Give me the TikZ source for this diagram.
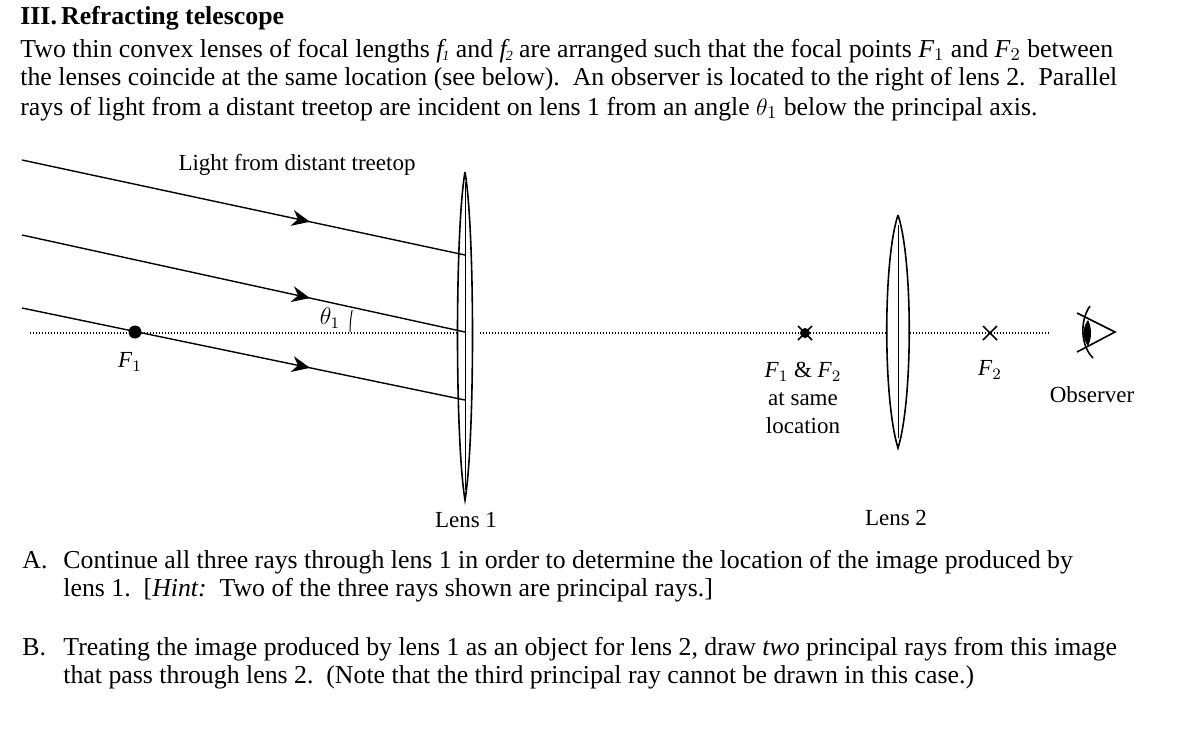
\documentclass[tikz,border=0pt]{standalone}
\usepackage{fontspec}
\setmainfont{Liberation Serif}
\usetikzlibrary{decorations.markings,arrows.meta}
\begin{document}
\begin{tikzpicture}[x=0.5pt,y=-0.5pt,
  txt/.style={anchor=base west,inner sep=0pt,font=\fontsize{12.9}{15}\selectfont},
  lbl/.style={inner sep=0pt,font=\fontsize{11.5}{13}\selectfont},
  ray/.style={line width=0.7pt,postaction=decorate,decoration={markings,mark=at position #1 with {\arrow{Stealth[length=9pt,width=8pt]}}}},
  axis/.style={line width=1pt,dash pattern=on 0.5pt off 1pt},
  lens/.style={line width=0.8pt}]
\useasboundingbox (0,0) rectangle (1178,752);
% texts
\node[txt,font=\fontsize{12.9}{15}\selectfont\bfseries] (title) at (20,24) {III.\,Refracting telescope};
\node[txt] (p1) at (20,57) {Two thin convex lenses of focal lengths \textit{f\kern-0.5pt\raisebox{-0.3ex}{\scriptsize1}} and \textit{f\kern-0.5pt\raisebox{-0.3ex}{\scriptsize2}} are arranged such that the focal points \textit{F}$_1$ and \textit{F}$_2$ between};
\node[txt] (p2) at (20,85) {the lenses coincide at the same location (see below).\ \ An observer is located to the right of lens 2.\ \ Parallel};
\node[txt] (p3) at (20,115) {rays of light from a distant treetop are incident on lens 1 from an angle $\theta_1$ below the principal axis.};
\node[txt] (a1) at (22,568) {A.};
\node[txt] (a2) at (63,568) {Continue all three rays through lens 1 in order to determine the location of the image produced by};
\node[txt] (a3) at (63,596) {lens 1.\ \ [\textit{Hint:}\ \ Two of the three rays shown are principal rays.]};
\node[txt] (b1) at (22,655) {B.};
\node[txt] (b2) at (63,655) {Treating the image produced by lens 1 as an object for lens 2, draw \textit{two} principal rays from this image};
\node[txt] (b3) at (63,683) {that pass through lens 2.\ \ (Note that the third principal ray cannot be drawn in this case.)};
% axis
\draw[axis] (30,333) -- (458,333);
\draw[axis] (480,333) -- (886,333);
\draw[axis] (910,333) -- (1050,333);
% lens 1
\coordinate (L1t) at (465,172); \coordinate (L1b) at (465,500);
\draw[lens] (L1t) .. controls (455,230) and (455,440) .. (L1b) .. controls (475,440) and (475,230) .. (L1t);
\draw[line width=0.5pt] (465,182) -- (465,490);
% lens 2
\coordinate (L2t) at (898,215); \coordinate (L2b) at (898,448);
\draw[lens] (L2t) .. controls (883,260) and (883,400) .. (L2b) .. controls (913,400) and (913,260) .. (L2t);
\draw[line width=0.5pt] (898,225) -- (898,438);
% rays
\coordinate (r1s) at (22,160); \coordinate (r1e) at (465,255);
\coordinate (r2s) at (22,235); \coordinate (r2e) at (465,332);
\coordinate (r3s) at (22,308); \coordinate (r3e) at (465,400);
\draw[ray=0.65] (r1s) -- (r1e);
\draw[ray=0.65] (r2s) -- (r2e);
\draw[ray=0.65] (r3s) -- (r3e);
% F1
\fill (135,332) circle (6.5);
\node[lbl] (F1) at (130,362) {\textit{F}$_1$};
\node[lbl] (light) at (297,165) {Light from distant treetop};
\draw[line width=0.5pt] (350,332) arc (180:191:115);
\node[lbl] (th) at (330,318) {$\theta_1$};
% F1&F2
\fill (805,333) circle (5);
\draw[line width=0.8pt] (798,326) -- (812,340) (798,340) -- (812,326);
\node[lbl,align=center] (F12) at (803,398) {\textit{F}$_1$ \& \textit{F}$_2$\\[1pt]at same\\[1pt]location};
% F2
\draw[line width=0.8pt] (983,326) -- (997,340) (983,340) -- (997,326);
\node[lbl] (F2) at (990,370) {\textit{F}$_2$};
% eye
\draw[line width=0.8pt] (1077,313) -- (1115,332) -- (1077,352);
\draw[line width=0.8pt] (1090,306) .. controls (1080,320) and (1080,345) .. (1093,358);
\fill (1088,320) .. controls (1082,328) and (1082,338) .. (1088,346) .. controls (1092,338) and (1092,328) .. (1088,320);
\node[lbl] (obs) at (1092,395) {Observer};
\node[lbl] (l1) at (466,520) {Lens 1};
\node[lbl] (l2) at (896,518) {Lens 2};
\end{tikzpicture}
\end{document}
